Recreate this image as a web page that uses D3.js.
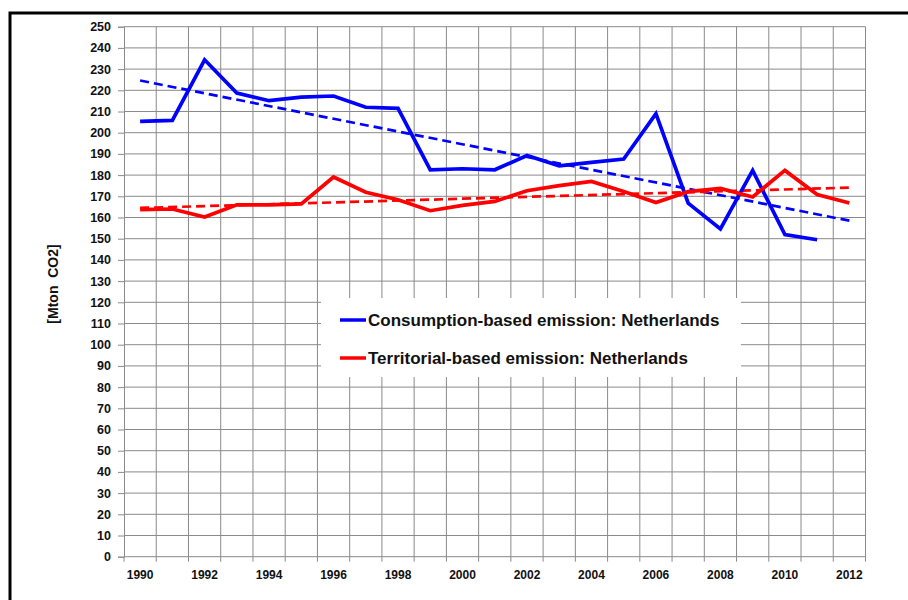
<!DOCTYPE html>
<html>
<head>
<meta charset="utf-8">
<script src="https://cdn.jsdelivr.net/npm/d3@7"></script>
<style>
  html, body { margin: 0; padding: 0; background: #fff; }
  svg { display: block; font-family: "Liberation Sans", Arial, sans-serif; }
</style>
</head>
<body>
<svg id="chart" width="908" height="600"></svg>
<script>
// Years shown on the category axis
const years = d3.range(1990, 2013);
const yearLabels = years.filter(y => y % 2 === 0);

// Consumption-based CO2 emission, Netherlands [Mton] (1990–2011)
const consumption = [205.3, 205.8, 234.4, 218.7, 215.1, 216.8, 217.3, 212.0, 211.5, 182.5, 183.0,
  182.5, 189.2, 184.4, 186.0, 187.6, 209.0, 166.8, 154.6, 182.2, 151.9, 149.5];

// Territorial-based CO2 emission, Netherlands [Mton] (1990–2012)
const territorial = [163.7, 164.0, 160.2, 166.0, 166.0, 166.4, 179.1, 171.9, 168.4, 163.2, 165.7,
  167.6, 172.6, 175.0, 177.0, 172.3, 167.1, 172.2, 173.7, 169.7, 182.2, 170.8, 166.8];

// Linear trend lines: values at the first and last year
const trendYears = [1990, 2012];
const consumptionTrend = [224.6, 158.5];
const territorialTrend = [164.5, 174.1];

// Value axis ticks
const yTicks = d3.range(0, 251, 10);

const legendLabels = ["Consumption-based emission: Netherlands", "Territorial-based emission: Netherlands"];
const seriesColors = ["#0000ff", "#ff0000"];

const svg = d3.select("#chart");
const plot = { left: 124, right: 865.5, top: 26.7, bottom: 556.7 };

const x = d3.scaleBand().domain(years).range([plot.left, plot.right]).paddingInner(0).paddingOuter(0);
const xc = yr => x(yr) + x.bandwidth() / 2;
const y = d3.scaleLinear().domain([0, 250]).range([plot.bottom, plot.top]);

const gridColor = "#8a8a8a";

// Outer frame
svg.append("rect")
  .attr("x", 10).attr("y", 13).attr("width", 1000).attr("height", 1000)
  .attr("fill", "none").attr("stroke", "#000").attr("stroke-width", 3);

// Horizontal grid
svg.append("g").selectAll("line").data(yTicks.filter(t => t > 0)).join("line")
  .attr("x1", plot.left).attr("x2", plot.right)
  .attr("y1", d => y(d)).attr("y2", d => y(d))
  .attr("stroke", gridColor).attr("stroke-width", 1);

// Vertical grid at category boundaries
const boundaries = years.map(yr => x(yr)).concat([plot.right]);
svg.append("g").selectAll("line").data(boundaries.slice(1)).join("line")
  .attr("x1", d => d).attr("x2", d => d)
  .attr("y1", plot.top).attr("y2", plot.bottom)
  .attr("stroke", gridColor).attr("stroke-width", 1);

// Y axis
const yAxis = svg.append("g")
  .attr("transform", `translate(${plot.left},0)`)
  .call(d3.axisLeft(y).tickValues(yTicks).tickSize(6).tickPadding(7).tickFormat(d3.format("d")));
yAxis.select(".domain").attr("stroke", gridColor);
yAxis.selectAll(".tick line").attr("stroke", gridColor);
yAxis.selectAll("text").attr("font-size", 12.5).attr("font-weight", "bold").attr("fill", "#111");

// X axis: ticks at category boundaries, labels every second year
const xAxis = svg.append("g").attr("transform", `translate(0,${plot.bottom})`);
xAxis.append("line").attr("x1", plot.left).attr("x2", plot.right)
  .attr("stroke", gridColor);
xAxis.selectAll("line.tk").data(boundaries).join("line").attr("class", "tk")
  .attr("x1", d => d).attr("x2", d => d).attr("y1", 0).attr("y2", 5)
  .attr("stroke", gridColor);
xAxis.selectAll("text").data(yearLabels).join("text")
  .attr("x", d => xc(d)).attr("y", 22)
  .attr("text-anchor", "middle")
  .attr("font-size", 12).attr("font-weight", "bold").attr("fill", "#111")
  .text(d => d);

// Y axis title
svg.append("text")
  .attr("transform", "translate(58,284) rotate(-90)")
  .attr("text-anchor", "middle")
  .attr("font-size", 14).attr("font-weight", "bold").attr("fill", "#111")
  .attr("xml:space", "preserve")
  .text("[Mton  CO2]");

// Legend box (white background over the grid)
const legend = svg.append("g");
legend.append("rect")
  .attr("x", 321).attr("y", 298).attr("width", 420).attr("height", 79)
  .attr("fill", "#fff");

// Series
const line = d3.line().x(d => xc(d[0])).y(d => y(d[1]));

const series = [consumption, territorial];
const trends = [consumptionTrend, territorialTrend];

trends.forEach((t, i) => {
  svg.append("path")
    .datum(trendYears.map((yr, j) => [yr, t[j]]))
    .attr("d", line)
    .attr("fill", "none")
    .attr("stroke", seriesColors[i])
    .attr("stroke-width", 2.7)
    .attr("stroke-dasharray", "9,5");
});

series.forEach((s, i) => {
  svg.append("path")
    .datum(s.map((v, j) => [years[j], v]))
    .attr("d", line)
    .attr("fill", "none")
    .attr("stroke", seriesColors[i])
    .attr("stroke-width", 3.7)
    .attr("stroke-linejoin", "miter");
});

// Legend entries
const legendRows = [320, 358];
legendLabels.forEach((lab, i) => {
  legend.append("line")
    .attr("x1", 340).attr("x2", 366)
    .attr("y1", legendRows[i]).attr("y2", legendRows[i])
    .attr("stroke", seriesColors[i]).attr("stroke-width", 3.5);
  legend.append("text")
    .attr("x", 368).attr("y", legendRows[i] + 6)
    .attr("font-size", 17).attr("font-weight", "bold").attr("fill", "#111")
    .text(lab);
});
</script>
</body>
</html>
